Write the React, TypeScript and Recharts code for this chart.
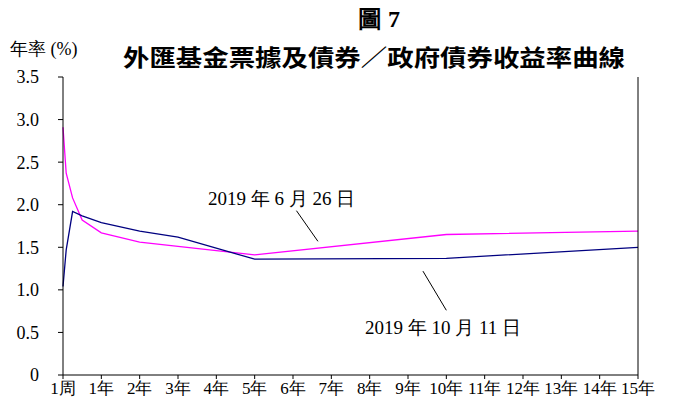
import { LineChart, Line, XAxis, YAxis, ReferenceLine } from 'recharts';

// maturity in years, 1 week plotted at 0
const maturities = [0, 1 / 12, 0.25, 0.5, 1, 2, 3, 5, 10, 15];
const jun26 = [2.91, 2.37, 2.08, 1.82, 1.67, 1.56, 1.51, 1.41, 1.65, 1.69];
const oct11 = [1.04, 1.47, 1.92, 1.87, 1.79, 1.69, 1.62, 1.36, 1.37, 1.5];

const xTicks = [0, 1, 2, 3, 4, 5, 6, 7, 8, 9, 10, 11, 12, 13, 14, 15];
const yTicks = [0, 0.5, 1, 1.5, 2, 2.5, 3, 3.5];

const data = maturities.map((m, i) => ({ m, jun: jun26[i], oct: oct11[i] }));

const serif = "'Liberation Serif', 'Times New Roman', Times, serif";
const cjk = "'Noto Sans CJK TC', sans-serif";
const tickStyle = { fontSize: 18, fill: '#000', style: { fontFamily: serif } };

export default function App() {
  return (
    <div style={{ position: 'absolute', left: 0, top: 0, width: 684, height: 405, background: '#fff', fontFamily: serif }}>
      <LineChart width={684} height={405} data={data} margin={{ top: 77, right: 0, bottom: 0, left: 0 }} style={{ fontFamily: serif }}>
        <XAxis
          dataKey="m"
          type="number"
          domain={[0, 15]}
          ticks={xTicks}
          interval={0}
          height={30}
          tickSize={4}
          tickMargin={3}
          stroke="#000"
          tickFormatter={(v: number) => (v === 0 ? '1周' : `${v}年`)}
          tick={{ fontSize: 17, fill: '#000', style: { fontFamily: serif } }}
        />
        <YAxis
          yAxisId="l"
          domain={[0, 3.5]}
          ticks={yTicks}
          width={63}
          tickSize={5}
          tickMargin={19}
          stroke="#000"
          tickFormatter={(v: number) => (v === 0 ? '0' : v.toFixed(1))}
          tick={tickStyle}
        />
        <YAxis
          yAxisId="r"
          orientation="right"
          domain={[0, 3.5]}
          ticks={yTicks}
          width={46}
          tickSize={5}
          tickMargin={10}
          stroke="#000"
          tickFormatter={(v: number) => (v === 0 ? '0' : v.toFixed(1))}
          tick={{ ...tickStyle, textAnchor: 'start' }}
        />
        <ReferenceLine yAxisId="l" segment={[{ x: 6.09, y: 1.93 }, { x: 6.65, y: 1.57 }]} stroke="#000" strokeWidth={1} ifOverflow="visible" />
        <ReferenceLine yAxisId="l" segment={[{ x: 9.39, y: 1.22 }, { x: 10.0, y: 0.76 }]} stroke="#000" strokeWidth={1} ifOverflow="visible" />
        <Line yAxisId="l" dataKey="jun" stroke="#ff00ff" strokeWidth={1.3} dot={false} isAnimationActive={false} />
        <Line yAxisId="l" dataKey="oct" stroke="#000080" strokeWidth={1.3} dot={false} isAnimationActive={false} />
      </LineChart>
      <svg width={684} height={405} style={{ position: 'absolute', left: 0, top: 0, pointerEvents: 'none', fontFamily: serif }}>
        <text x={379} y={27} textAnchor="middle" fontSize={24} fontWeight="bold">圖 7</text>
        <text x={374} y={66} textAnchor="middle" fontSize={23} fontWeight="bold" style={{ fontFamily: cjk }} textLength={502} lengthAdjust="spacingAndGlyphs">
          外匯基金票據及債券／政府債券收益率曲線
        </text>
        <text x={10} y={55} fontSize={18}>年率 (%)</text>
        <text x={208} y={205} fontSize={19}>2019 年 6 月 26 日</text>
        <text x={365} y={334} fontSize={19}>2019 年 10 月 11 日</text>
      </svg>
    </div>
  );
}
